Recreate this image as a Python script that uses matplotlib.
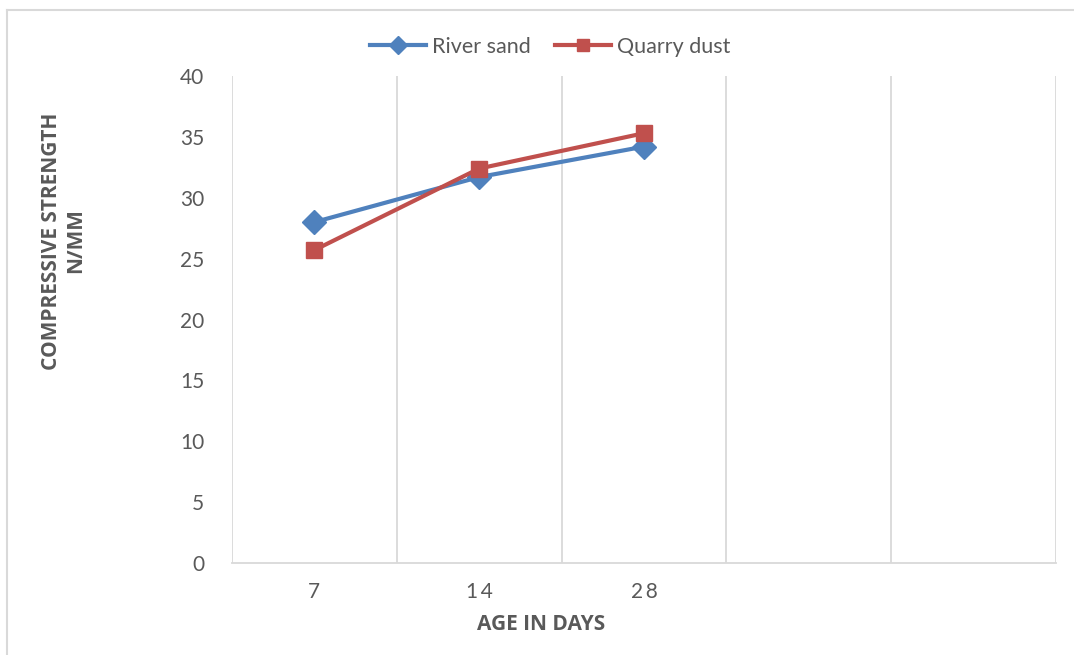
import matplotlib.pyplot as plt
from matplotlib.lines import Line2D

# ---- data ----
days = ['7', '14', '28']
n_slots = 5          # category axis keeps two empty slots on the right
river_sand = [28.0, 31.7, 34.2]
quarry_dust = [25.7, 32.4, 35.3]

BLUE = '#4F81BD'
RED = '#C0504D'
GRID = '#D9D9D9'
TXT = '#595959'

plt.rcParams['font.family'] = ['Lato', 'DejaVu Sans']

fig = plt.figure(figsize=(10.74, 6.55), dpi=100)
ax = fig.add_axes([232/1074, 1 - 563/655, (1056 - 232)/1074, (563 - 76)/655])

x = list(range(len(days)))
ax.plot(x, river_sand, color=BLUE, lw=3, marker='D', ms=12, label='River sand', zorder=3)
ax.plot(x, quarry_dust, color=RED, lw=3, marker='s', ms=12, label='Quarry dust', zorder=4)

ax.set_xlim(-0.5, n_slots - 0.5)
ax.set_ylim(0, 40)
ax.set_yticks(range(0, 41, 5))
ax.set_xticks(x)
ax.set_xticklabels(['\u2009'.join(d) for d in days])

# vertical gridlines sit between categories
for b in range(n_slots + 1):
    ax.axvline(b - 0.5, color=GRID, lw=1.3, zorder=1)

for s in ['top', 'right', 'left']:
    ax.spines[s].set_visible(False)
ax.spines['bottom'].set_color(GRID)
ax.spines['bottom'].set_linewidth(1.3)

ax.tick_params(axis='both', length=0, colors=TXT, labelsize=15)
ax.tick_params(axis='y', pad=20)
ax.tick_params(axis='x', pad=14)

bold = dict(family=['Open Sans', 'DejaVu Sans'], fontweight='bold', color=TXT, fontsize=15)
fig.text(541/1074, 1 - 625/655, 'AGE IN DAYS', ha='center', va='center', **bold)
fig.text(64/1074, 1 - 241/655, 'COMPRESSIVE STRENGTH\nN/MM', ha='center', va='center',
         rotation=90, linespacing=1.2, **bold)

leg = ax.legend(loc='center', bbox_to_anchor=(550/1074, 1 - 47/655),
                bbox_transform=fig.transFigure, ncol=2, frameon=False,
                fontsize=15.5, handlelength=2.6, columnspacing=1.1, handletextpad=0.3,
                markerscale=0.75)
for t in leg.get_texts():
    t.set_color(TXT)

# chart border (runs off the right and bottom edges)
fig.add_artist(Line2D([7/1074, 7/1074], [0, 1 - 10/655], color=GRID, lw=1.5))
fig.add_artist(Line2D([7/1074, 1], [1 - 10/655, 1 - 10/655], color=GRID, lw=1.5))

fig.savefig('out.png', dpi=100)
